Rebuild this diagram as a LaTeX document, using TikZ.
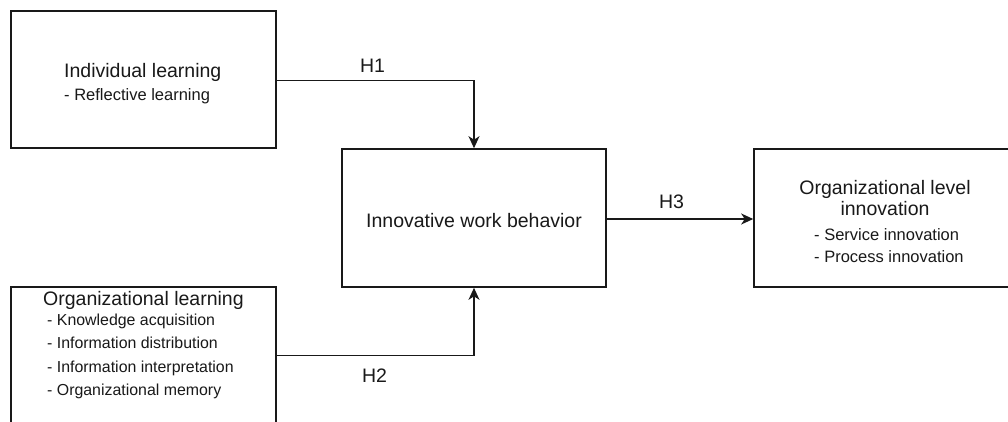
\documentclass[tikz,border=0pt]{standalone}
\usepackage{fontspec}
\setmainfont{Liberation Sans}
\usetikzlibrary{arrows.meta}
\tikzset{
  box/.style={draw=black!90, line width=1.6pt, fill=white, inner sep=0pt},
  conn/.style={draw=black!90, line width=1.4pt, -{Stealth[length=12pt,width=11pt,inset=3.5pt]}},
  ttl/.style={inner sep=0pt, font=\fontsize{19.5}{21}\selectfont, text=black!90},
  itm/.style={inner sep=0pt, font=\fontsize{16.5}{23.5}\selectfont, text=black!90},
  itms/.style={inner sep=0pt, font=\fontsize{15.9}{23.5}\selectfont, text=black!90},
  hlab/.style={inner sep=0pt, anchor=base, font=\fontsize{19.5}{21}\selectfont, text=black!90}
}
\begin{document}
\begin{tikzpicture}[x=1pt,y=-1pt]
\useasboundingbox (0,0) rectangle (1008,421);
\clip (0,0) rectangle (1008,421);
\fill[white] (0,0) rectangle (1008,421);

% boxes
\node[box, minimum width=265pt, minimum height=137pt] (ind) at (143.5,79.5) {};
\node[box, minimum width=265pt, minimum height=173pt] (org) at (143.5,373.5) {};
\node[box, minimum width=264pt, minimum height=138pt] (iwb) at (474,218) {};
\node[box, minimum width=262pt, minimum height=138pt] (oli) at (885,218) {};

% texts
\node[ttl, anchor=base west] (indt) at (64,77) {Individual learning};
\node[itm, anchor=base west] (indi) at (64,100) {- Reflective learning};

\node[ttl, anchor=base west] (orgt) at (43,305) {Organizational learning};
\node[itms, anchor=base west] (orgi1) at (47,325) {- Knowledge acquisition};
\node[itms, anchor=base west] (orgi2) at (47,348.5) {- Information distribution};
\node[itms, anchor=base west] (orgi3) at (47,372) {- Information interpretation};
\node[itms, anchor=base west] (orgi4) at (47,395.5) {- Organizational memory};

\node[ttl, anchor=base] (iwbt) at (474,227) {Innovative work behavior};

\node[ttl, anchor=base] (olit1) at (885,194) {Organizational level};
\node[ttl, anchor=base] (olit2) at (885,215) {innovation};
\node[itm, anchor=base west] (olii1) at (814,240) {- Service innovation};
\node[itm, anchor=base west] (olii2) at (814,262) {- Process innovation};

% connectors
\draw[conn] ([yshift=-1pt]ind.east) -| (iwb.north);
\draw[conn] ([yshift=-69pt]org.north east) -| (iwb.south);
\draw[conn] ([yshift=-1pt]iwb.east) -- ([yshift=-1pt]oli.west);

% labels
\node[hlab] (h1) at (372.5,72) {H1};
\node[hlab] (h2) at (374.5,382) {H2};
\node[hlab] (h3) at (671.5,208) {H3};
\end{tikzpicture}
\end{document}
